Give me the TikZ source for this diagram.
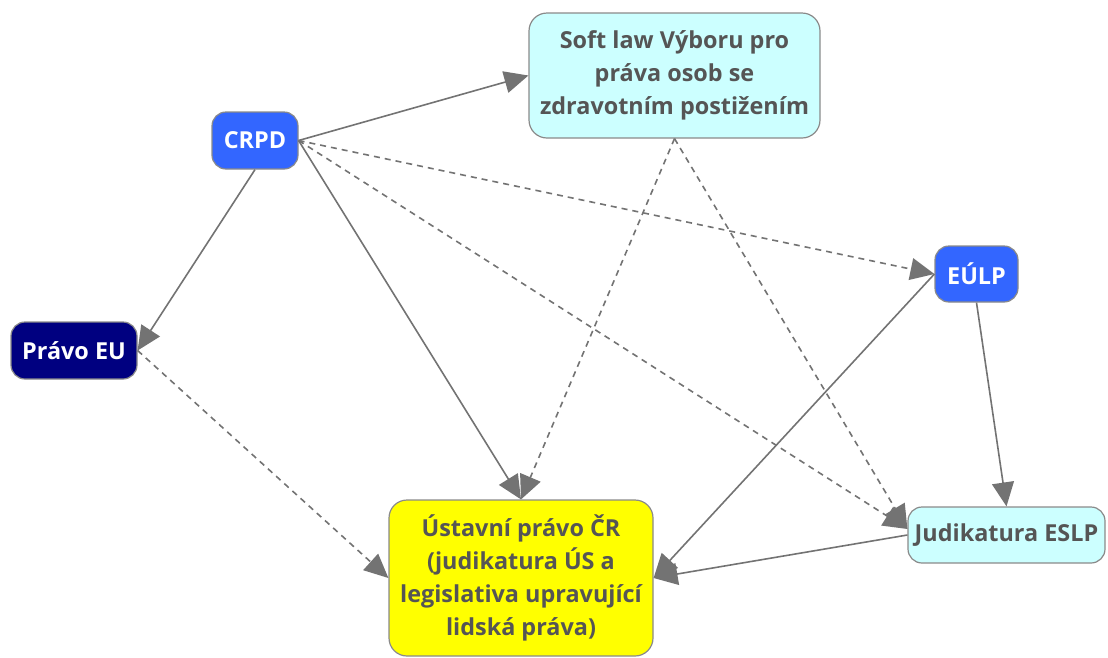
\documentclass[tikz,border=0pt]{standalone}
\usepackage{fontspec}
\setmainfont{Open Sans}
\usepackage{tikz}
\usetikzlibrary{arrows.meta, positioning}
\definecolor{colorText}{HTML}{555555}
\definecolor{colorBorder}{HTML}{8A8A8A}
\definecolor{colorEdge}{HTML}{737373}
\definecolor{colorBlue}{HTML}{3366FF}
\definecolor{colorNavy}{HTML}{000080}
\definecolor{colorCyan}{HTML}{CCFFFF}
\definecolor{colorYellow}{HTML}{FFFF00}
\tikzset{
  box/.style={draw=colorBorder, line width=1.2pt, rounded corners=14pt, inner sep=0pt,
    align=center, font=\fontsize{23.4}{33}\selectfont\bfseries, text=colorText},
  darkbox/.style={box, text=white},
  link/.style={draw=colorEdge, line width=1.6pt, -{Triangle[length=24pt,width=22pt]}},
  softlink/.style={link, dash pattern=on 6pt off 5pt}
}

\begin{document}
\begin{tikzpicture}[x=1pt, y=-1pt]
\useasboundingbox (0,0) rectangle (1108,657);
\node[box, fill=colorCyan, minimum width=291pt, minimum height=125pt, rounded corners=18pt] (softlaw) at (674.5,75.5) {Soft law Výboru pro\\práva osob se\\zdravotním postižením};
\node[darkbox, fill=colorBlue, minimum width=86pt, minimum height=57pt] (crpd) at (255,140.5) {CRPD};
\node[darkbox, fill=colorNavy, minimum width=126pt, minimum height=57pt] (pravo) at (74,350.5) {Právo EU};
\node[darkbox, fill=colorBlue, minimum width=83pt, minimum height=56pt] (eulp) at (976.5,274) {EÚLP};
\node[box, fill=colorCyan, minimum width=197pt, minimum height=56pt] (judik) at (1006.5,535) {Judikatura ESLP};
\node[box, fill=colorYellow, minimum width=264pt, minimum height=156pt, rounded corners=18pt] (ustav) at (521,578) {Ústavní právo ČR\\(judikatura ÚS a\\legislativa upravující\\lidská práva)};
% solid links
\draw[link] (crpd.east) -- (softlaw.west);
\draw[link] (crpd.south) -- (pravo.east);
\draw[link] (crpd.east) -- (ustav.north);
\draw[link] (eulp.west) -- (ustav.east);
\draw[link] (eulp.south) -- (judik.north);
\draw[link] (judik.west) -- (ustav.east);
% dashed links
\draw[softlink] (crpd.east) -- (eulp.west);
\draw[softlink] (crpd.east) -- ([yshift=6pt]judik.west);
\draw[softlink] (softlaw.south) -- (ustav.north);
\draw[softlink] (softlaw.south) -- ([yshift=6pt]judik.west);
\draw[softlink] (pravo.east) -- (ustav.west);
\end{tikzpicture}
\end{document}
